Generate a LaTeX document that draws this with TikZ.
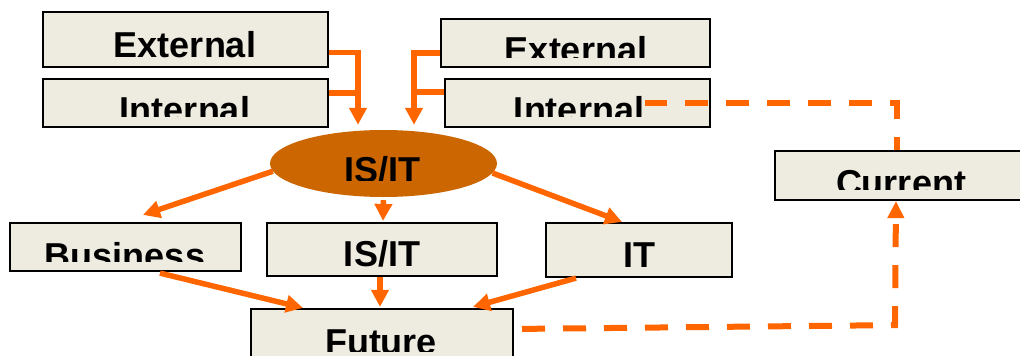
\documentclass[tikz,border=0pt]{standalone}
\usepackage{fontspec}
\setmainfont{Liberation Sans}
\usetikzlibrary{arrows.meta,shapes.geometric,calc}
\definecolor{orangeC}{HTML}{FF6600}
\definecolor{ellC}{HTML}{CC6600}
\definecolor{boxC}{HTML}{EEEBE0}
\tikzset{
  box/.style={draw=black, line width=2.2pt, fill=boxC, inner sep=0pt, rectangle},
  txt/.style={font=\fontsize{36}{40}\selectfont\bfseries, inner sep=0pt, text=black},
  ln/.style={draw=orangeC, line width=5.5pt},
  arr/.style={ln, -{Triangle[length=17pt,width=17pt]}},
  dsh/.style={draw=orangeC, line width=6pt, dash pattern=on 23pt off 18pt},
}
\newcommand\cliptext[6]{%
  \begin{scope}
    \clip (#2-200,#4) rectangle (#2+200,#5);
    \node[txt,anchor=base] (#1) at (#2,#3) {#6};
  \end{scope}}
\begin{document}
\begin{tikzpicture}[x=1pt,y=-1pt]
\useasboundingbox (0,0) rectangle (1020,356);
\clip (0,0) rectangle (1020,356);
% boxes
\node[box,minimum width=285pt,minimum height=55pt] (extL) at (185.5,39.5) {};
\node[box,minimum width=285pt,minimum height=48pt] (intL) at (185.5,103) {};
\node[box,minimum width=269pt,minimum height=48pt] (extR) at (575.5,43) {};
\node[box,minimum width=265pt,minimum height=48pt] (intR) at (577.5,103) {};
\node[box,minimum width=252pt,minimum height=49pt] (cur) at (901,175.5) {};
\node[ellipse,fill=ellC,inner sep=0pt,minimum width=227pt,minimum height=67pt] (ell) at (383.5,163.5) {};
\node[box,minimum width=231pt,minimum height=48pt] (bus) at (125.5,247) {};
\node[box,minimum width=230pt,minimum height=53pt] (isit) at (382,249.5) {};
\node[box,minimum width=186pt,minimum height=54pt] (it) at (639,250) {};
\node[box,minimum width=262pt,minimum height=70pt] (fut) at (382,344) {};
% texts (clipped as in the reference)
\cliptext{tExtL}{185}{57}{12}{67}{External}
\cliptext{tIntL}{185}{122}{79}{116}{Internal}
\cliptext{tExtR}{576}{62}{19}{57}{External}
\cliptext{tIntR}{579}{122}{79}{116}{Internal}
\cliptext{tEll}{382.5}{182}{130}{180}{IS/IT}
\cliptext{tCur}{901}{195}{151}{189}{Current}
\cliptext{tBus}{125}{268}{223}{261}{Business}
\cliptext{tIsit}{382}{266}{223}{276}{IS/IT}
\cliptext{tIt}{639}{267}{223}{277}{IT}
\cliptext{tFut}{381}{354}{309}{351}{Future}
% top connectors
\coordinate (tipL) at ($(ell.north)+(-25.5,-5)$);
\coordinate (tipR) at ($(ell.north)+(30.5,-5)$);
\draw[arr] ($(extL.east)+(0,13)$) -| (tipL);
\draw[ln] ($(intL.east)+(0,-10)$) -- ($(intL.east -| tipL)+(0,-10)$);
\draw[arr] ($(extR.west)+(0,10)$) -| (tipR);
\draw[ln] ($(intR.west)+(0,-11)$) -- ($(intR.west -| tipR)+(0,-11)$);
% from the ellipse
\draw[arr] (ell.184) -- ($(bus.north)+(17.5,-7)$);
\draw[arr] ($(ell.south)+(0,3)$) -- ($(isit.north)+(1,-1)$);
\draw[arr] (ell.355) -- ($(it.north)+(-17,0)$);
% to future
\draw[arr] ($(bus.south)+(34.5,1)$) -- ($(fut.north)+(-79,0)$);
\draw[arr] ($(isit.south)+(-2,0)$) -- ($(fut.north)+(-2,-1)$);
\draw[arr] ($(it.south)+(-63,0)$) -- ($(fut.north)+(91,-1)$);
% dashed
\draw[dsh, dash phase=1pt] ($(intR.center)+(67.5,0)$) -| ($(cur.north)+(-4,0)$);
\draw[dsh, -{Triangle[length=17pt,width=16pt]}] ($(fut.north)+(140,21)$) -- ($(cur.south)+(-6,124)$) -- ($(cur.south)+(-5,0)$);
\end{tikzpicture}
\end{document}
